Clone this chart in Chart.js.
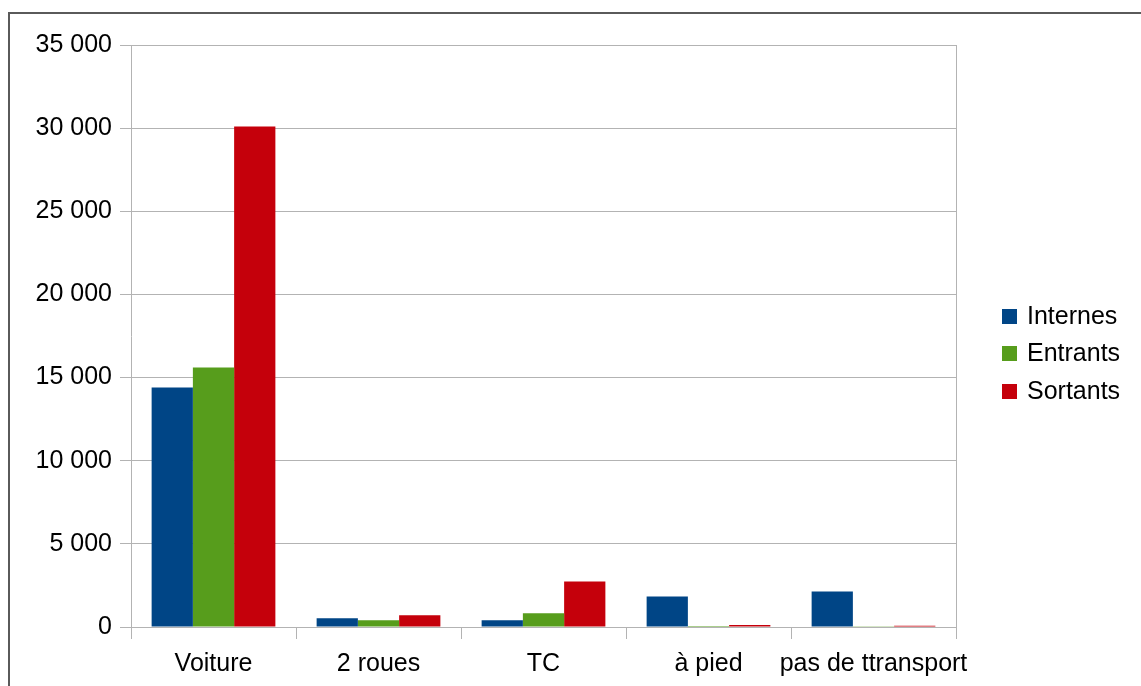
<!DOCTYPE html>
<html lang="fr">
<head>
<meta charset="utf-8">
<title>Déplacements par mode</title>
<script src="https://cdn.jsdelivr.net/npm/chart.js@4"></script>
<style>
  html, body { margin: 0; padding: 0; background: #ffffff; overflow: hidden; }
  #wrap { position: relative; width: 1141px; height: 686px; }
  #frame {
    position: absolute; left: 8px; top: 12px; width: 2000px; height: 2000px;
    border-left: 2px solid #5a5a5a; border-top: 2px solid #5a5a5a;
  }
  #chart { position: absolute; left: 0; top: 0; }
</style>
</head>
<body>
<div id="wrap">
  <div id="frame"></div>
  <canvas id="chart" width="1141" height="686"></canvas>
</div>
<script>
// Modes de transport
const categories = ['Voiture', '2 roues', 'TC', 'à pied', 'pas de ttransport'];

// Nombre de déplacements par type de flux
const internes = [14400, 520, 400, 1840, 2140];
const entrants = [15600, 400, 820, 60, 50];
const sortants = [30100, 700, 2740, 120, 70];

const seriesNames = ['Internes', 'Entrants', 'Sortants'];
const seriesColors = ['#004586', '#579d1c', '#c5000b'];

// Graduations de l'axe vertical
const yTicks = [0, 5000, 10000, 15000, 20000, 25000, 30000, 35000];

const FONT = { family: '"Liberation Sans", Arial, sans-serif', size: 25 };
const GRID = '#b3b3b3';

function formatThousands(v) {
  return String(v).replace(/\B(?=(\d{3})+(?!\d))/g, ' ');
}

// Cadre droit de la zone de tracé + légende à droite
const framePlugin = {
  id: 'framePlugin',
  afterDraw(chart) {
    const { ctx, chartArea } = chart;
    ctx.save();
    ctx.strokeStyle = GRID;
    ctx.lineWidth = 1;
    ctx.beginPath();
    ctx.moveTo(Math.round(chartArea.right) + 0.5, chartArea.top);
    ctx.lineTo(Math.round(chartArea.right) + 0.5, chartArea.bottom);
    ctx.stroke();

    // Légende
    const boxX = 1002, box = 15, textX = 1027;
    const y0 = 316, step = 37.5;
    ctx.font = `${FONT.size}px ${FONT.family}`;
    ctx.textBaseline = 'middle';
    ctx.textAlign = 'left';
    chart.data.datasets.forEach((ds, i) => {
      const cy = y0 + i * step;
      ctx.fillStyle = ds.backgroundColor;
      ctx.fillRect(boxX, Math.round(cy - box / 2), box, box);
      ctx.fillStyle = '#000000';
      ctx.fillText(ds.label, textX, cy + 1);
    });
    ctx.restore();
  }
};

const ctx = document.getElementById('chart').getContext('2d');
new Chart(ctx, {
  type: 'bar',
  data: {
    labels: categories,
    datasets: [internes, entrants, sortants].map((values, i) => ({
      label: seriesNames[i],
      data: values,
      backgroundColor: seriesColors[i],
      borderWidth: 0,
      categoryPercentage: 0.75,
      barPercentage: 1.0
    }))
  },
  options: {
    responsive: false,
    animation: false,
    devicePixelRatio: 1,
    layout: { padding: { left: 0, right: 185, top: 45, bottom: 0 } },
    plugins: {
      legend: { display: false },
      tooltip: { enabled: false }
    },
    scales: {
      x: {
        offset: true,
        grid: {
          offset: true,
          drawOnChartArea: false,
          drawTicks: true,
          tickLength: 12,
          color: GRID,
          lineWidth: 1
        },
        border: { display: true, color: GRID, width: 1 },
        ticks: {
          color: '#000000',
          font: FONT,
          padding: 10,
          maxRotation: 0,
          autoSkip: false
        },
        afterFit(scale) { scale.height = 59; }
      },
      y: {
        min: 0,
        max: 35000,
        afterBuildTicks(scale) {
          scale.ticks = yTicks.map(v => ({ value: v }));
        },
        grid: {
          color: GRID,
          lineWidth: 1,
          drawTicks: true,
          tickLength: 11
        },
        border: { display: true, color: GRID, width: 1 },
        ticks: {
          color: '#000000',
          font: FONT,
          padding: 8,
          callback: (v) => formatThousands(v)
        },
        afterFit(scale) { scale.width = 131; }
      }
    }
  },
  plugins: [framePlugin]
});
</script>
</body>
</html>
